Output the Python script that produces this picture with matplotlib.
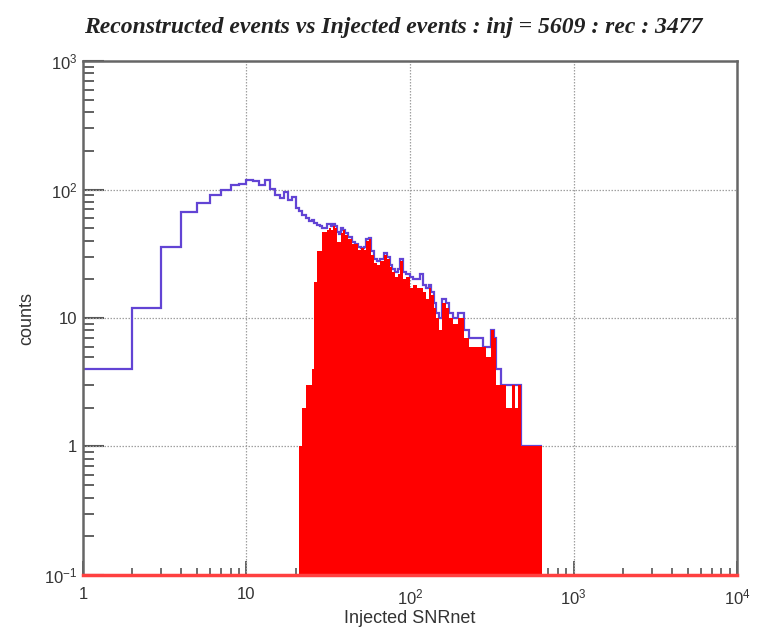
import numpy as np
import matplotlib
matplotlib.use("Agg")
import matplotlib.pyplot as plt
from matplotlib.ticker import FixedLocator, FixedFormatter, LogLocator, NullFormatter

plt.rcParams['font.family'] = ['Liberation Sans', 'DejaVu Sans']
plt.rcParams['mathtext.default'] = 'regular'

# BINS (unit width up to 40, wider bins above, read as per-bin heights)
bin_edges = list(range(1, 41)) + [
    42, 44, 46, 48, 50, 52, 54, 56, 58, 60,
    63, 66, 69, 72, 75, 78, 81, 84, 87, 90,
    95, 100, 105, 110, 115, 120, 125, 130, 135, 140, 145, 150,
    158, 166, 174, 182, 190, 198, 206, 214, 222, 230, 238, 246, 254,
    266, 278, 290, 302, 314, 326, 338, 350, 362, 374, 386, 398,
    418, 438, 458, 478, 498, 518, 538, 558, 578, 598, 618, 638,
]

# injected events (blue)
injected_counts = [
    4, 12, 36, 67, 79, 90, 100, 108, 110, 119,
    116, 109, 119, 101, 90, 86, 95, 83, 88, 72,
    68, 63, 60, 57, 58, 55, 53, 52, 50, 50,
    54, 54, 52, 54, 52, 47, 45, 50, 48,
    46, 43, 39, 38, 36, 35, 36, 41, 42, 33,
    29, 28, 29, 32, 30, 26, 24, 23, 24, 29,
    23, 22, 21, 20, 20, 22, 18, 17, 18, 16, 13, 11,
    10, 14, 13, 11, 10, 10, 11, 11, 8, 8, 7, 7, 7,
    7, 7, 6, 6, 6, 8, 7, 4, 4, 3, 3, 3,
    3, 3, 3, 3, 1, 1, 1, 1, 1, 1, 1, 1,
]

# reconstructed events (red)
reconstructed_counts = [
    0, 0, 0, 0, 0, 0, 0, 0, 0, 0,
    0, 0, 0, 0, 0, 0, 0, 0, 0, 0,
    1, 2, 3, 3, 4, 19, 33, 33, 47, 47,
    48, 50, 48, 52, 50, 39, 39, 46, 48,
    44, 41, 38, 38, 34, 35, 34, 40, 41, 31,
    27, 26, 28, 31, 29, 25, 23, 21, 22, 28,
    20, 21, 17, 18, 17, 17, 16, 14, 17, 15, 12, 10,
    8, 13, 12, 10, 9, 9, 10, 10, 7, 7, 6, 6, 6,
    6, 6, 6, 5, 5, 8, 7, 3, 3, 3, 3, 2,
    2, 3, 2, 3, 1, 1, 1, 1, 1, 1, 1, 1,
]

X_TICKS = [1, 10, 100, 1000, 10000]
X_LABELS = ['1', '10', '$10^{2}$', '$10^{3}$', '$10^{4}$']
Y_TICKS = [0.1, 1, 10, 100, 1000]
Y_LABELS = ['$10^{-1}$', '1', '10', '$10^{2}$', '$10^{3}$']

TITLE = "Reconstructed events vs Injected events : inj = 5609 : rec : 3477"

YMIN, YMAX = 0.1, 1000

edges = np.array(bin_edges, dtype=float)
inj = np.array(injected_counts, dtype=float)
rec = np.array(reconstructed_counts, dtype=float)
rec_plot = np.where(rec > 0, rec, YMIN)

fig = plt.figure(figsize=(7.57, 6.41), dpi=100)
ax = fig.add_axes([0.1096, 0.1030, 0.8640, 0.8018])

ax.set_xscale('log')
ax.set_yscale('log')
ax.set_xlim(1, 10000)
ax.set_ylim(YMIN, YMAX)

ax.stairs(inj, edges, baseline=None, color='#6244d4', linewidth=1.6, zorder=2)
ax.stairs(rec_plot, edges, baseline=YMIN, fill=True, color='#ff0000',
          linewidth=0.8, zorder=3)

# grid
ax.set_axisbelow(True)
for v in [10, 100, 1000]:
    ax.axvline(v, color='#a0a0a0', linestyle=(0, (1.2, 1.2)), linewidth=0.9, zorder=1)
for v in [1, 10, 100]:
    ax.axhline(v, color='#a0a0a0', linestyle=(0, (1.2, 1.2)), linewidth=0.9, zorder=1)

# ticks (ROOT style, inward)
ax.xaxis.set_major_locator(FixedLocator(X_TICKS))
ax.xaxis.set_major_formatter(FixedFormatter(X_LABELS))
ax.yaxis.set_major_locator(FixedLocator(Y_TICKS))
ax.yaxis.set_major_formatter(FixedFormatter(Y_LABELS))
ax.xaxis.set_minor_locator(LogLocator(base=10, subs=np.arange(2, 10), numticks=20))
ax.yaxis.set_minor_locator(LogLocator(base=10, subs=np.arange(2, 10), numticks=20))
ax.xaxis.set_minor_formatter(NullFormatter())
ax.yaxis.set_minor_formatter(NullFormatter())

ax.tick_params(axis='y', which='major', direction='in', length=15, width=1.5,
               color='#555555', labelsize=12, labelcolor='#333333', pad=4,
               right=False)
ax.tick_params(axis='y', which='minor', direction='in', length=8, width=1.3,
               color='#555555', right=False)
ax.tick_params(axis='x', which='major', direction='in', length=10, width=1.3,
               color='#555555', labelsize=12, labelcolor='#333333', pad=9,
               top=False)
ax.tick_params(axis='x', which='minor', direction='in', length=5, width=1.2,
               color='#555555', top=False)

for side in ['left', 'top', 'right']:
    ax.spines[side].set_color('#666666')
    ax.spines[side].set_linewidth(1.8)
ax.spines['bottom'].set_color('#ff4040')
ax.spines['bottom'].set_linewidth(2.5)
ax.spines['bottom'].set_zorder(4)

ax.set_xlabel('Injected SNRnet', fontsize=13, color='#333333', labelpad=2)
ax.set_ylabel('counts', fontsize=13, color='#333333', labelpad=6)

fig.text(0.519, 0.957, TITLE, ha='center', va='center', fontsize=17,
         style='italic', weight='bold', family=['Liberation Serif', 'DejaVu Serif'],
         color='#222222')

fig.savefig('out.png', dpi=100)
